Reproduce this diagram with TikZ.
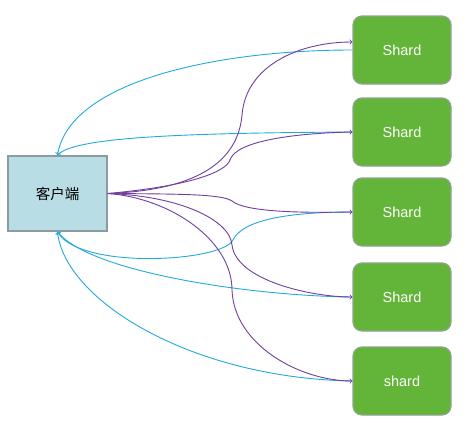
\documentclass[tikz,border=0pt]{standalone}
\usepackage{fontspec}
\setmainfont{Liberation Sans}
\newfontfamily\cjk{Noto Sans CJK SC}
\definecolor{clientfill}{HTML}{B8DDE4}
\definecolor{clientdraw}{HTML}{8C9B9B}
\definecolor{shardfill}{HTML}{63B53A}
\definecolor{sharddraw}{HTML}{8FA58A}
\definecolor{req}{HTML}{7040A0}
\definecolor{resp}{HTML}{22AADD}
\tikzset{
  client/.style={draw=clientdraw, fill=clientfill, line width=1.5pt, minimum width=99pt, minimum height=75pt, inner sep=0pt, font=\cjk\fontsize{14.5}{16}\selectfont},
  shardbox/.style={draw=sharddraw, fill=shardfill, line width=1.2pt, rounded corners=9pt, minimum width=98pt, minimum height=68pt, inner sep=0pt, text=white, font=\fontsize{14.5}{16}\selectfont},
  reqline/.style={draw=req, line width=0.9pt, -to},
  respline/.style={draw=resp, line width=0.9pt, -to},
}
\begin{document}
\begin{tikzpicture}[x=1pt,y=-1pt]
\useasboundingbox[fill=white] (0,0) rectangle (472,423);
\node[client] (client) at (57.5,193.5) {客户端};
\node[shardbox] (s1) at (402,50) {Shard};
\node[shardbox] (s2) at (402,132) {Shard};
\node[shardbox] (s3) at (402,212) {Shard};
\node[shardbox] (s4) at (402,297) {Shard};
\node[shardbox] (s5) at (402,381) {shard};
% responses (cyan)
\draw[respline] (s1.west) .. controls (220,50) and (70,80) .. (client.north);
\draw[respline] (s2.west) .. controls (200,133) and (75,136) .. (client.north);
\draw[respline] (s3.west) .. controls (270,212) and (240,225) .. (233,240)
   .. controls (222,262) and (80,270) .. (client.south);
\draw[respline] (s4.west) .. controls (250,296) and (90,272) .. (client.south);
\draw[respline] (s5.west) .. controls (190,378) and (65,300) .. (client.south);
% requests (purple)
\draw[reqline] (client.east) .. controls (200,190) and (238,160) .. (242,115)
   .. controls (246,65) and (300,42) .. ([yshift=8pt]s1.west);
\draw[reqline] (client.east) .. controls (190,186) and (226,172) .. (230,160)
   .. controls (236,140) and (300,133) .. (s2.west);
\draw[reqline] (client.east) .. controls (180,194) and (222,194) .. (232,201)
   .. controls (245,212) and (300,213) .. (s3.west);
\draw[reqline] (client.east) .. controls (180,196) and (230,220) .. (232,245)
   .. controls (236,280) and (310,297) .. (s4.west);
\draw[reqline] (client.east) .. controls (170,198) and (232,240) .. (232,290)
   .. controls (234,345) and (300,381) .. (s5.west);
\end{tikzpicture}
\end{document}
